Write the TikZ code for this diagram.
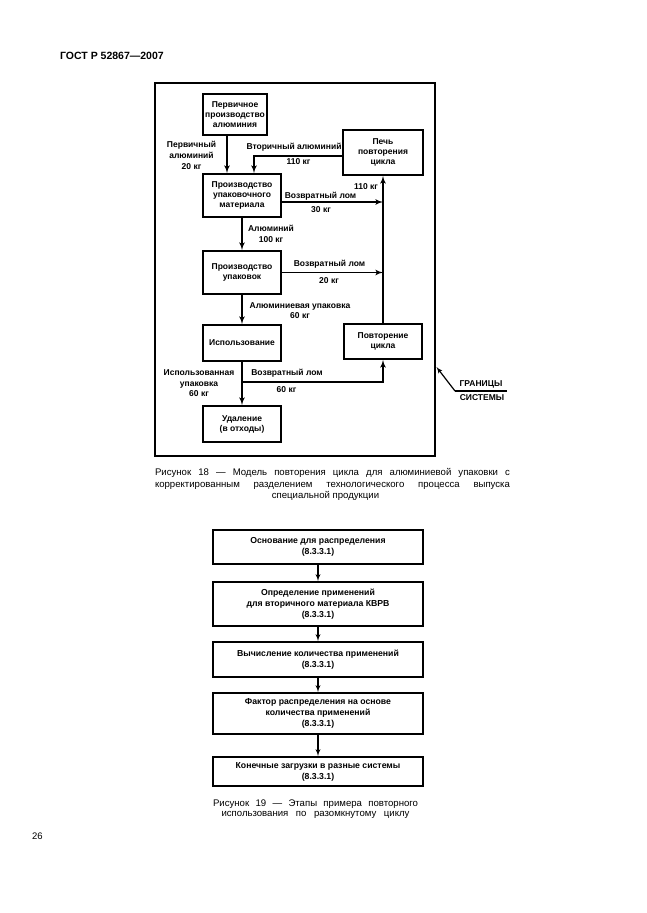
\documentclass[tikz,border=0pt]{standalone}
\usepackage{fontspec}
\setmainfont{Liberation Sans}
\usetikzlibrary{positioning,arrows}

\begin{document}
\begin{tikzpicture}[x=1pt, y=-1pt, >=latex', line width=1.6pt,
  blk/.style={draw, line width=2pt, inner sep=0pt, align=center,
    font=\bfseries\fontsize{8.5}{10}\selectfont},
  stage/.style={draw, line width=2pt, inner sep=0pt, align=center,
    minimum width=210pt, font=\bfseries\fontsize{8.7}{11}\selectfont}]
  \useasboundingbox (0,0) rectangle (646,913);

  \node[anchor=west, font=\bfseries\fontsize{10.5}{12}\selectfont] (hdr) at (56,55.5) {ГОСТ Р 52867—2007};
  \node[font=\fontsize{9.5}{10}\selectfont] (pg) at (37.5,836) {26};

  % figure 18
  \node[draw, line width=2pt, inner sep=0pt, minimum width=280pt, minimum height=373pt] (sys) at (295,269.5) {};

  \node[blk, minimum width=64pt, minimum height=41pt] (prim) at (235,114.5) {Первичное\\производство\\алюминия};
  \node[blk, minimum width=80pt, minimum height=45pt] (pech) at (383,152.5) {Печь\\повторения\\цикла};
  \node[blk, minimum width=78pt, minimum height=43pt] (mat) at (242,195.5) {Производство\\упаковочного\\материала};
  \node[blk, minimum width=78pt, minimum height=43pt] (pack) at (242,272.5) {Производство\\упаковок};
  \node[blk, minimum width=78pt, minimum height=36pt] (use) at (242,343) {Использование};
  \node[blk, minimum width=78pt, minimum height=36pt] (rem) at (242,424) {Удаление\\(в отходы)};
  \node[blk, minimum width=78pt, minimum height=35pt] (rec) at (383,341.5) {Повторение\\цикла};

  \coordinate (jm) at (383,202);
  \coordinate (jp) at (383,272.5);
  \coordinate (ju) at (242,382);

  \draw[->] ([xshift=-8pt]prim.south) -- ([xshift=-8pt]prim.south |- mat.north);
  \draw[->] ([yshift=-3.5pt]pech.west) -| ([xshift=12pt]mat.north);
  \draw[->] (rec.north) -- (pech.south);
  \draw[->] (mat.east |- jm) -- (jm);
  \draw[->] (pack.east) -- (jp);
  \draw[->] (mat.south) -- (pack.north);
  \draw[->] (pack.south) -- (use.north);
  \draw[->] (use.south) -- (rem.north);
  \draw[->] (ju) -| (rec.south);

  \tikzset{lbl/.style={inner sep=0pt, align=center, font=\bfseries\fontsize{8.5}{11}\selectfont}}

  \node[lbl] (lprim) at (191.5,155) {Первичный\\алюминий\\20 кг};
  \node[lbl] (lsec) at (294,147) {Вторичный алюминий};
  \node[lbl] (lsecm) at (298.5,162) {110 кг};
  \node[lbl] (lrecm) at (366,187) {110 кг};
  \node[lbl] (lscr1) at (320.5,196) {Возвратный лом};
  \node[lbl] (lscr1m) at (321,209.5) {30 кг};
  \node[lbl] (lal) at (271,234) {Алюминий\\100 кг};
  \node[lbl] (lscr2) at (329.5,264.5) {Возвратный лом};
  \node[lbl] (lscr2m) at (329,280.5) {20 кг};
  \node[lbl, font=\bfseries\fontsize{8.5}{10}\selectfont] (lpk) at (300,311) {Алюминиевая упаковка\\60 кг};
  \node[lbl, font=\bfseries\fontsize{8.5}{10.5}\selectfont] (lused) at (199,383.5) {Использованная\\упаковка\\60 кг};
  \node[lbl] (lscr3) at (287,373) {Возвратный лом};
  \node[lbl] (lscr3m) at (286.5,389.5) {60 кг};

  \node[lbl] (gran) at (481,384.5) {ГРАНИЦЫ};
  \node[lbl] (sist) at (482,397.5) {СИСТЕМЫ};
  \coordinate (bndL) at (455,391);
  \coordinate (bndR) at (507,391);
  \coordinate (ptr) at (436.5,367);
  \draw[line width=1.2pt] (bndR) -- (bndL);
  \draw[->, line width=1.2pt] (bndL) -- (ptr);

  \node[align=center, inner sep=0pt, font=\fontsize{9.6}{11.5}\selectfont] (cap18) at (332.5,484.5)
    {\makebox[355pt][s]{Рисунок 18 — Модель повторения цикла для алюминиевой упаковки с}\\
     \makebox[355pt][s]{корректированным разделением технологического процесса выпуска}\\
     специальной продукции\hspace*{14pt}};

  % figure 19
  \tikzset{every path/.style={line width=1.3pt}}
  \node[stage, minimum height=34pt] (s1) at (318,547) {Основание для распределения\\(8.3.3.1)};
  \node[stage, minimum height=44pt] (s2) at (318,604) {Определение применений\\для вторичного материала КВРВ\\(8.3.3.1)};
  \node[stage, minimum height=35pt] (s3) at (318,659.5) {Вычисление количества применений\\(8.3.3.1)};
  \node[stage, minimum height=41pt] (s4) at (318,713.5) {Фактор распределения на основе\\количества применений\\(8.3.3.1)};
  \node[stage, minimum height=29pt] (s5) at (318,771.5) {Конечные загрузки в разные системы\\(8.3.3.1)};

  \draw[->] (s1) -- (s2);
  \draw[->] (s2) -- (s3);
  \draw[->] (s3) -- (s4);
  \draw[->] (s4) -- (s5);

  \node[align=center, inner sep=0pt, font=\fontsize{9.6}{10.5}\selectfont] (cap19) at (315.5,809)
    {\makebox[205pt][s]{Рисунок 19 — Этапы примера повторного}\\
     \makebox[188pt][s]{использования по разомкнутому циклу}};
\end{tikzpicture}
\end{document}
